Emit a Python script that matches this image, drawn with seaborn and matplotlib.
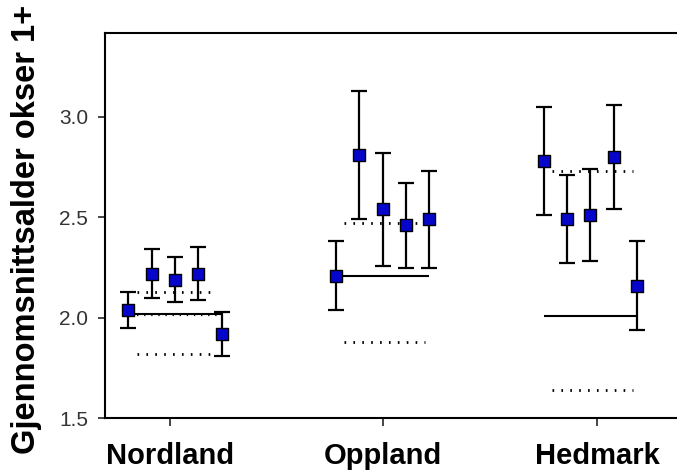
import numpy as np
import pandas as pd
import matplotlib
matplotlib.use("Agg")
import matplotlib.pyplot as plt
import seaborn as sns

# ---- data ----
regions = ["Nordland", "Oppland", "Hedmark"]
nordland_mean = [2.04, 2.22, 2.19, 2.22, 1.92]
nordland_low = [1.95, 2.10, 2.08, 2.09, 1.81]
nordland_high = [2.13, 2.34, 2.30, 2.35, 2.03]
oppland_mean = [2.21, 2.81, 2.54, 2.46, 2.49]
oppland_low = [2.04, 2.49, 2.26, 2.25, 2.25]
oppland_high = [2.38, 3.13, 2.82, 2.67, 2.73]
hedmark_mean = [2.78, 2.49, 2.51, 2.80, 2.16]
hedmark_low = [2.51, 2.27, 2.28, 2.54, 1.94]
hedmark_high = [3.05, 2.71, 2.74, 3.06, 2.38]
solid_level = [2.02, 2.21, 2.01]
dotted_upper = [2.13, 2.47, 2.73]
dotted_lower = [1.82, 1.88, 1.64]
dotted_extra = [2.015, np.nan, np.nan]
yticks = [1.5, 2.0, 2.5, 3.0]
ytick_labels = ["1.5", "2.0", "2.5", "3.0"]

means = [nordland_mean, oppland_mean, hedmark_mean]
lows = [nordland_low, oppland_low, hedmark_low]
highs = [nordland_high, oppland_high, hedmark_high]

rows = []
step = 0.1122
for gi, reg in enumerate(regions):
    for j in range(5):
        rows.append({"region": reg, "x": gi + (j - 2) * step,
                     "y": means[gi][j], "lo": lows[gi][j], "hi": highs[gi][j]})
df = pd.DataFrame(rows)

sns.set_theme(style="ticks")
plt.rcParams["font.family"] = ["Liberation Sans", "DejaVu Sans"]

fig = plt.figure(figsize=(6.77, 4.71), dpi=100)
ax = fig.add_axes([105 / 677, 1 - 418.3 / 471, 1 - 105 / 677, (418.3 - 33.3) / 471])

dot_style = [(0, (0.6, 2.6))]
for gi in range(3):
    x0 = gi - 2 * step
    x1 = gi + 2 * step
    ax.hlines(solid_level[gi], x0, x1, colors="black", linewidth=1.5, zorder=2)
    ax.hlines(dotted_upper[gi], x0 + 0.04, x1 - 0.02, colors="black",
              linewidth=2.0, linestyles=dot_style, zorder=2)
    ax.hlines(dotted_lower[gi], x0 + 0.04, x1 - 0.02, colors="black",
              linewidth=2.0, linestyles=dot_style, zorder=2)
    if not np.isnan(dotted_extra[gi]):
        ax.hlines(dotted_extra[gi], x0 + 0.04, x1 - 0.02, colors="black",
                  linewidth=1.6, linestyles=dot_style, zorder=2)

ax.errorbar(df["x"], df["y"],
            yerr=[df["y"] - df["lo"], df["hi"] - df["y"]],
            fmt="none", ecolor="black", elinewidth=1.6, capsize=6,
            capthick=1.6, zorder=3)

sns.scatterplot(data=df, x="x", y="y", marker="s", s=78, color="#0505cc",
                edgecolor="black", linewidth=1.0, zorder=4, ax=ax, legend=False)

ax.set_xlim(-0.337, 2.417)
ax.set_ylim(1.5, 3.415)
ax.set_xticks([-0.024, 1.003, 2.033])
ax.set_xticklabels(regions, fontsize=21, fontweight="bold", color="black")
ax.set_yticks(yticks)
ax.set_yticklabels(ytick_labels, fontsize=15, color="#333333")
ax.tick_params(axis="y", direction="out", length=5, width=1.2, pad=7)
ax.tick_params(axis="x", direction="out", length=6, width=1.2, pad=11)
ax.set_xlabel("")
ax.set_ylabel("Gjennomsnittsalder okser 1+", fontsize=23.5, fontweight="bold",
              color="black")
ax.yaxis.set_label_coords(-0.11, 0.49)

for s in ["left", "bottom", "top"]:
    ax.spines[s].set_visible(True)
    ax.spines[s].set_linewidth(1.5)
    ax.spines[s].set_color("black")
ax.spines["right"].set_visible(False)
ax.set_facecolor("white")
fig.patch.set_facecolor("white")

fig.savefig("out.png", dpi=100)
